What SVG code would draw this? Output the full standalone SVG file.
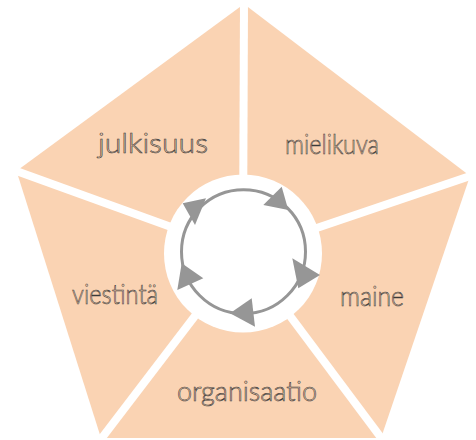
<svg xmlns="http://www.w3.org/2000/svg" width="476" height="440" viewBox="0 0 476 440">
<style>
.seg{fill:#FAD3B3}
.gap{stroke:#FFFFFF;stroke-width:8;stroke-linecap:butt}
.lbl{font-family:"Lato","Open Sans",sans-serif;font-weight:300;font-size:27px;fill:none;stroke:#3a3a3a;stroke-width:0.6}
.ring{fill:none;stroke:#969696;stroke-width:3}
.head{fill:#969696}
</style>
<rect width="476" height="440" fill="#FFFFFF"/>
<g id="pentagon">
<polygon class="seg" points="244,4 470,176 381,438 101,438 16.5,171"/>
</g>
<g id="connectors">
<line class="gap" x1="243" y1="253" x2="244" y2="0"/>
<line class="gap" x1="243" y1="253" x2="476" y2="174"/>
<line class="gap" x1="243" y1="253" x2="385" y2="443"/>
<line class="gap" x1="243" y1="253" x2="98" y2="443"/>
<line class="gap" x1="243" y1="253" x2="8" y2="168"/>
</g>
<g id="center">
<circle cx="243" cy="253.5" r="79" fill="#FFFFFF"/>
<circle class="ring" cx="243.5" cy="251.7" r="62"/>
<polygon class="head" points="182.7,203.3 206,198.3 195,225"/>
<polygon class="head" points="263.3,205 281.7,186.7 288.3,210"/>
<polygon class="head" points="292.3,258.3 320,275 298.3,288.3"/>
<polygon class="head" points="230,313.3 251.7,298.3 255,326.7"/>
<polygon class="head" points="181.7,263.3 203.3,278.3 177.3,290"/>
</g>
<g id="julkisuus"><text class="lbl" x="98" y="153" textLength="110" lengthAdjust="spacingAndGlyphs">julkisuus</text></g>
<g id="mielikuva"><text class="lbl" x="285" y="154" textLength="94" lengthAdjust="spacingAndGlyphs">mielikuva</text></g>
<g id="maine"><text class="lbl" x="340" y="306" textLength="64" lengthAdjust="spacingAndGlyphs">maine</text></g>
<g id="viestinta"><text class="lbl" x="72" y="304" textLength="86" lengthAdjust="spacingAndGlyphs">viestintä</text></g>
<g id="organisaatio"><text class="lbl" x="177" y="401" textLength="140" lengthAdjust="spacingAndGlyphs">organisaatio</text></g>
</svg>
